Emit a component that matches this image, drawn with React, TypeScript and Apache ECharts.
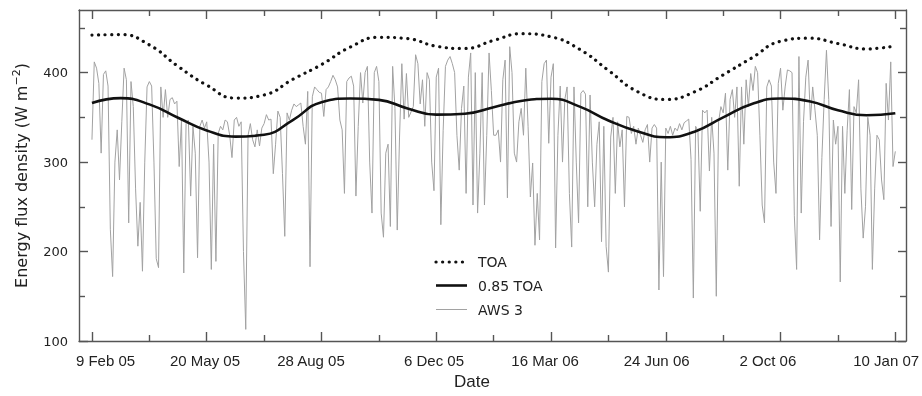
import React, { useEffect, useRef } from "react";
import * as echarts from "echarts";

// ---- axis ticks / labels ----
const tickDays = [0, 100, 200, 300, 400, 500, 600, 700];
const tickLabels = ["9 Feb 05", "20 May 05", "28 Aug 05", "6 Dec 05", "16 Mar 06", "24 Jun 06", "2 Oct 06", "10 Jan 07"];
// label centres as placed in the original figure (slightly off the ticks)
const tickLabelDays = [11.8, 98.5, 190.8, 298, 394.8, 492, 589, 692];
const minorTickDays = [50, 150, 250, 350, 450, 550, 650];
const yMajorTicks = [100, 200, 300, 400];
const yMinorTicks = [150, 250, 350, 450];

// ---- legend entries ----
const legendNames = ["TOA", "0.85 TOA", "AWS 3"];

// ---- smooth curves (days since 9 Feb 05) ----
const curveDays = [0, 25, 50, 75, 100, 125, 150, 175, 200, 225, 250, 275, 300, 325, 350, 375, 400, 425, 450, 475, 500, 525, 550, 575, 600, 625, 650, 675, 700];
const toaValues = [442, 442.5, 431, 407, 386, 371.5, 375, 392.5, 409, 428.5, 439.5, 438, 429.5, 427, 436, 443.5, 440, 426, 402.5, 379, 370, 378.5, 397.5, 416.5, 435, 438.5, 432.5, 426.5, 430];
const toa85Values = [366, 371.5, 364.5, 349.5, 335.3, 328.5, 330.5, 347, 367, 371, 369.5, 360, 353, 354, 361.3, 368.5, 370.8, 362, 346.5, 334.5, 327.8, 334, 350, 365, 371, 368, 358, 352.3, 354.6];

// ---- AWS 3 observations, one value every 2 days from 9 Feb 05 ----
const AWS_STEP_DAYS = 2;
const aws3Values = [
  325, 412, 405, 388, 310, 398, 402, 385, 225, 172,
  300, 336, 280, 345, 405, 392, 232, 390, 362, 270,
  206, 255, 178, 300, 384, 390, 385, 300, 192, 182,
  384, 350, 381, 350, 370, 372, 365, 368, 295, 347,
  176, 343, 347, 262, 340, 310, 193, 340, 347, 338,
  345, 300, 180, 320, 189, 332,
  340, 336, 347, 345, 330, 305, 347, 350, 340, 345,
  200, 113, 330, 343, 325, 317, 336, 318, 338, 343,
  353, 347, 348, 287, 320, 357, 350, 287, 217, 355,
  347, 358, 365, 362, 364, 366, 340, 320, 379, 183,
  373, 384, 381, 378, 377, 351, 381, 384, 390, 397,
  392, 384, 347, 336, 265, 390, 394, 396, 385, 262,
  340, 400, 366, 400, 407, 300, 243, 400, 407, 390,
  243, 216, 310, 320, 228, 407, 360, 224, 328, 410,
  348, 399, 350, 356, 362, 420, 410, 365, 392, 340,
  400, 392, 300, 268, 395, 405, 230, 335, 407, 414,
  418, 410, 400, 330, 291, 360, 385, 265, 395, 422,
  252, 400, 243, 310, 400, 252, 330, 422, 380, 330,
  330, 336, 300, 392, 414, 260, 429, 400, 310, 300,
  345, 360, 330, 405, 340, 261, 299, 207, 265, 213,
  390, 410, 414, 321, 395, 410, 204, 330, 385, 300,
  370, 384, 265, 205, 384, 300, 232, 377, 380, 376,
  250, 375, 300, 250, 320, 345, 211, 340, 206, 177,
  328, 350, 265, 345, 317, 336, 250, 351, 350, 332,
  340, 320, 338, 330, 322, 336, 342, 300, 338, 342,
  338, 157, 300, 172, 338, 332, 340, 330, 338, 335,
  343, 336, 344, 346, 348, 303, 148, 340, 335, 245,
  358, 355, 358, 290, 350, 310, 150, 345, 362, 355,
  377, 291, 370, 381, 350, 384, 273, 384, 320, 392,
  362, 399, 380, 407, 400, 330, 252, 232, 384, 392,
  385, 300, 265, 388, 405, 358, 384, 403, 402, 400,
  240, 180, 418, 243, 345, 395, 414, 347, 384, 358,
  330, 213, 305, 370, 425, 370, 228, 347, 320, 340,
  166, 340, 265, 335, 381, 247, 362, 355, 392, 270,
  215, 250, 350, 330, 180, 270, 330, 325, 280, 258,
  388, 347, 412, 295, 312,
];

const X_MIN = -11.3;
const X_MAX = 709.3;
const Y_MIN = 100;
const Y_MAX = 470;

const AWS_COLOR = "#a2a2a2";
const CURVE_COLOR = "#111";
const TOA_DASH = [0.1, 6.5];

export default function App() {
  const ref = useRef<HTMLDivElement>(null);

  useEffect(() => {
    if (!ref.current) return;
    const chart = echarts.init(ref.current, undefined, { renderer: "svg" });
    const axisColor = "#555";
    const lineStyle = { color: axisColor, width: 1.4 };

    const xBase = (position: string, values: number[], len: number, showLine: boolean, showLabel: boolean) => ({
      type: "value",
      position,
      min: X_MIN,
      max: X_MAX,
      splitLine: { show: false },
      axisLine: { show: showLine, onZero: false, lineStyle },
      axisTick: { show: true, inside: true, length: len, customValues: values, lineStyle },
      axisLabel: showLabel
        ? {
            show: true,
            customValues: tickLabelDays,
            formatter: (v: number) => {
              let best = 0;
              tickLabelDays.forEach((d, i) => {
                if (Math.abs(d - v) < Math.abs(tickLabelDays[best] - v)) best = i;
              });
              return tickLabels[best];
            },
            margin: 12,
            fontSize: 15,
            fontFamily: "Liberation Sans",
            color: "#222",
          }
        : { show: false },
    });

    const yBase = (position: string, values: number[], len: number, showLine: boolean, showLabel: boolean, withName: boolean) => ({
      type: "value",
      position,
      min: Y_MIN,
      max: Y_MAX,
      splitLine: { show: false },
      axisLine: { show: showLine, onZero: false, lineStyle },
      axisTick: { show: true, inside: true, length: len, customValues: values, lineStyle },
      axisLabel: showLabel
        ? {
            show: true,
            customValues: yMajorTicks,
            margin: 11,
            fontSize: 13,
            fontFamily: "DejaVu Sans",
            color: "#222",
          }
        : { show: false },
      ...(withName
        ? {
            name: "{t|Energy flux density (W m}{s|−2}{t|)}",
            nameLocation: "middle",
            nameGap: 48,
            nameTextStyle: {
              rich: {
                t: { fontSize: 16, fontFamily: "DejaVu Sans", color: "#222", lineHeight: 20 },
                s: { fontSize: 11, fontFamily: "DejaVu Sans", color: "#222", verticalAlign: "top", lineHeight: 11 },
              },
            },
          }
        : {}),
    });

    const aws3Data = aws3Values.map((v, i) => [i * AWS_STEP_DAYS, v]);
    const toaData = toaValues.map((v, i) => [curveDays[i], v]);
    const toa85Data = toa85Values.map((v, i) => [curveDays[i], v]);

    const legendStyles = [
      { stroke: CURVE_COLOR, lineWidth: 3.2, lineDash: TOA_DASH, lineCap: "round" },
      { stroke: CURVE_COLOR, lineWidth: 2.6 },
      { stroke: AWS_COLOR, lineWidth: 1 },
    ];
    const legendRowsY = [262, 285.5, 309.5];
    const legendGraphics: any[] = [];
    legendNames.forEach((name, i) => {
      legendGraphics.push({
        type: "line",
        shape: { x1: 436, y1: legendRowsY[i], x2: 467, y2: legendRowsY[i] },
        style: legendStyles[i],
        silent: true,
      });
      legendGraphics.push({
        type: "text",
        x: 478,
        y: legendRowsY[i],
        style: {
          text: name,
          fontSize: 14,
          fontFamily: "DejaVu Sans",
          fill: "#222",
          textVerticalAlign: "middle",
          verticalAlign: "middle",
        },
        silent: true,
      });
    });

    chart.setOption({
      animation: false,
      grid: { left: 79, right: 16, top: 10, bottom: 55, containLabel: false, outerBoundsMode: "none" },
      xAxis: [
        xBase("bottom", tickDays, 9, true, true),
        xBase("bottom", minorTickDays, 6, false, false),
        xBase("top", tickDays, 9, true, false),
        xBase("top", minorTickDays, 6, false, false),
      ],
      yAxis: [
        yBase("left", yMajorTicks, 9, true, true, true),
        yBase("left", yMinorTicks, 6, false, false, false),
        yBase("right", yMajorTicks, 8, true, false, false),
        yBase("right", yMinorTicks, 6, false, false, false),
      ],
      graphic: [
        {
          type: "text",
          left: 454,
          top: 373,
          style: { text: "Date", fontSize: 17, fontFamily: "Liberation Sans", fill: "#222" },
        },
        ...legendGraphics,
      ],
      series: [
        {
          name: "AWS 3",
          type: "line",
          data: aws3Data,
          symbol: "none",
          lineStyle: { color: AWS_COLOR, width: 1 },
          itemStyle: { color: AWS_COLOR },
          z: 1,
        },
        {
          name: "0.85 TOA",
          type: "line",
          data: toa85Data,
          smooth: true,
          symbol: "none",
          lineStyle: { color: CURVE_COLOR, width: 2.6 },
          itemStyle: { color: CURVE_COLOR },
          z: 3,
        },
        {
          name: "TOA",
          type: "line",
          data: toaData,
          smooth: true,
          symbol: "none",
          lineStyle: { color: CURVE_COLOR, width: 3.2, type: TOA_DASH, cap: "round" },
          itemStyle: { color: CURVE_COLOR },
          z: 3,
        },
      ],
    });

    return () => chart.dispose();
  }, []);

  return <div ref={ref} style={{ position: "fixed", left: 0, top: 0, width: 922, height: 396 }} />;
}
